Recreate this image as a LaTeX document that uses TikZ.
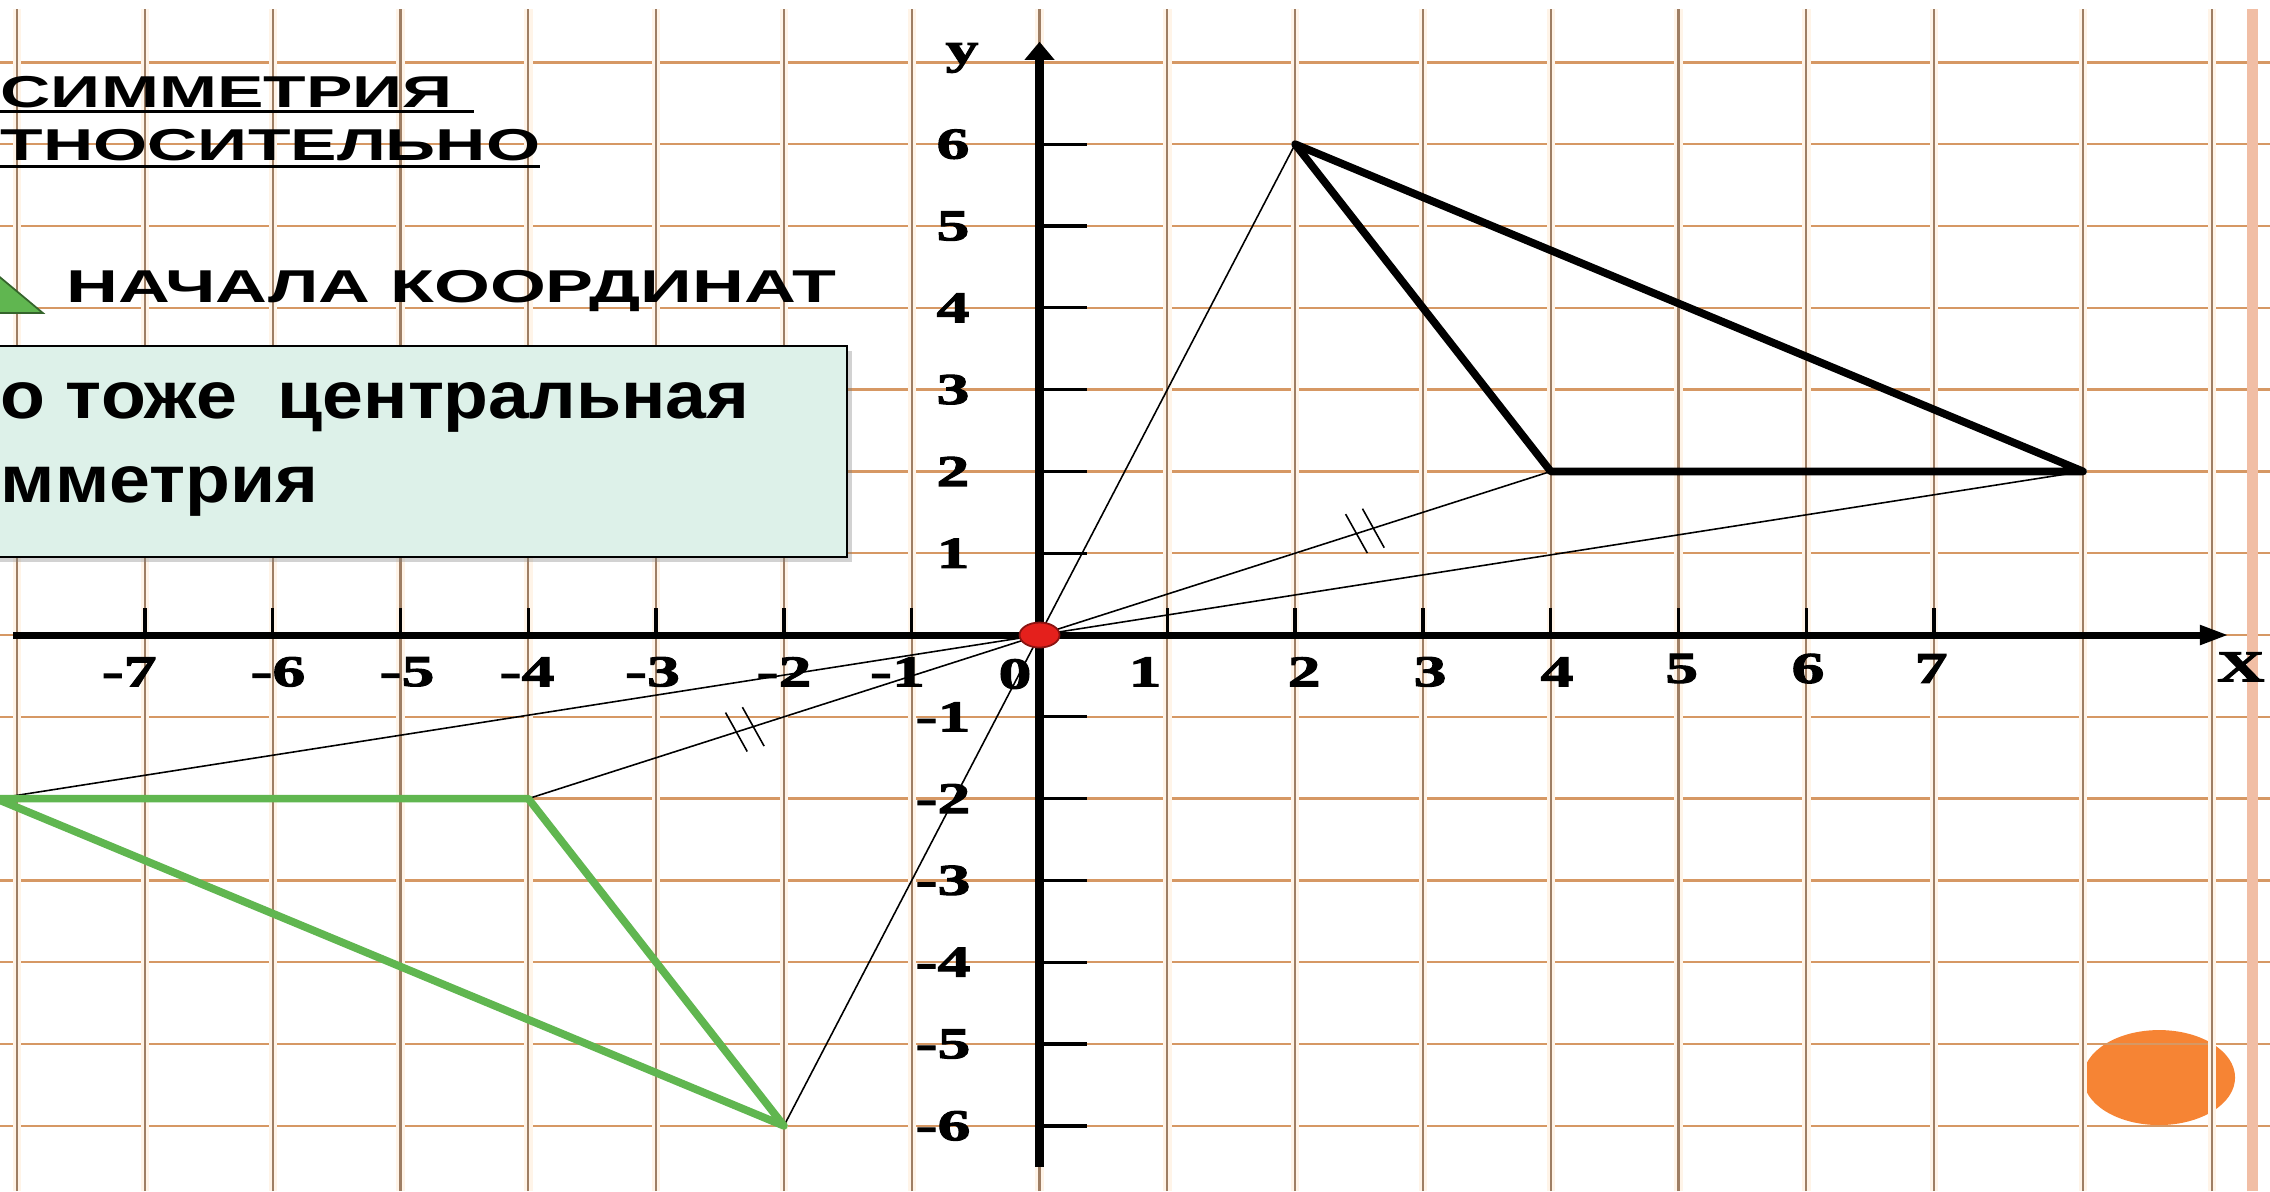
\documentclass[tikz,border=0pt]{standalone}
\usepackage{fontspec}
\usetikzlibrary{arrows.meta, calc, shadows}

\newfontfamily\axfont[FakeStretch=1.5, FakeBold=2.5]{Liberation Serif Bold}
\newfontfamily\capfont[FakeStretch=1.56]{Liberation Sans Bold}
\newfontfamily\boxfont[FakeStretch=1.1]{Liberation Sans Bold}

\definecolor{gridv}{RGB}{158,126,100}
\definecolor{gridh}{RGB}{214,152,100}
\definecolor{glow}{RGB}{255,244,232}
\definecolor{margin}{RGB}{241,190,165}
\definecolor{mint}{RGB}{221,241,233}
\definecolor{leaf}{RGB}{96,182,80}
\definecolor{dot}{RGB}{228,32,28}
\definecolor{sun}{RGB}{246,132,52}

\tikzset{
  num/.style={font=\axfont\fontsize{12.5}{14}\selectfont, inner sep=0pt},
  headtxt/.style={font=\capfont\fontsize{12.7}{15}\selectfont, anchor=base west, inner sep=0pt},
  boxtxt/.style={font=\boxfont\fontsize{19}{22}\selectfont, anchor=base west, inner sep=0pt},
  panel/.style={draw, fill=mint, line width=0.6pt,
    drop shadow={shadow xshift=0.05cm, shadow yshift=-0.05cm, opacity=0.35}},
  ray/.style={line width=0.45pt},
  fig/.style={line width=2.2pt, line join=round},
}

\begin{document}
\begin{tikzpicture}[x=1.278cm, y=0.818cm]
  \useasboundingbox (-8.134,-6.797) rectangle (9.628,7.763);
  \clip (-8.134,-6.797) rectangle (9.628,7.763);
  \fill[white] (-8.134,-6.797) rectangle (9.628,7.763);
  % orange spot, under the grid
  \fill[sun] (8.76,-5.41) ellipse [x radius=0.76cm, y radius=0.475cm];
  % grid paper
  \foreach \gy in {-6,...,7}
    \draw[gridh, line width=0.65pt] (-8.134,\gy) -- (9.628,\gy);
  \foreach \gx in {-8,...,7,8.165,9.175} {
    \draw[glow, line width=2.4pt] (\gx,-6.797) -- (\gx,7.653);
    \draw[gridv, line width=0.65pt] (\gx,-6.797) -- (\gx,7.653);
  }
  \draw[margin, line width=2.85pt] (9.491,-6.797) -- (9.491,7.653);
  % points
  \coordinate (O) at (0,0);
  \coordinate (A) at (2,6);
  \coordinate (B) at (4,2);
  \coordinate (C) at (8.165,2);
  \coordinate (A1) at (-2,-6);
  \coordinate (B1) at (-4,-2);
  \coordinate (C1) at (-8.165,-2);
  % lines through O
  \draw[ray] (A) -- (A1);
  \draw[ray] (B) -- (B1);
  \draw[ray] (C) -- (C1);
  % equal marks
  \foreach \t in {0.62,0.653}
    \draw[ray] ($(O)!\t!(B)+(-0.085,0.238)$) -- ++(0.17,-0.476);
  \foreach \t in {0.56,0.593}
    \draw[ray] ($(O)!\t!(B1)+(-0.085,0.238)$) -- ++(0.17,-0.476);
  % triangle and its image
  \draw[fig] (A) -- (B) -- (C) -- cycle;
  \draw[fig, leaf] (A1) -- (B1) -- (C1) -- cycle;
  % axes
  \draw[line width=2pt, -{Triangle[length=8.3pt, width=5.2pt]}] (-8.032,0) -- (9.307,0);
  \draw[line width=2.8pt, -{Triangle[length=5.2pt, width=8.3pt]}] (0,-6.5) -- (0,7.253);
  \foreach \k in {-7,...,-1,1,2,...,7}
    \draw[line width=0.95pt] (\k,0) -- (\k,0.33);
  \foreach \k in {-6,...,-1,1,2,...,6}
    \draw[line width=0.95pt] (0,\k) -- (0.372,\k);
  % numbers
  \foreach \v/\p in {-7/-7.123, -6/-5.959, -5/-4.949, -4/-4.010, -3/-3.028,
                     -2/-1.999, -1/-1.111, 1/0.826, 2/2.070, 3/3.056, 4/4.049}
    \node[num] (x\v) at (\p,-0.45) {\v};
  \foreach \v/\p in {5/5.025, 6/6.013, 7/6.976}
    \node[num] (x\v) at (\p,-0.41) {\v};
  \node[num] (x0) at (-0.192,-0.477) {0};
  \foreach \v in {1,...,6}
    \node[num] (y\v) at (-0.677,\v) {\v};
  \foreach \v in {-6,...,-1}
    \node[num] (y\v) at (-0.755,\v) {\v};
  \node[num] (xname) at (9.40,-0.39) {X};
  \node[num] (yname) at (-0.606,7.054) {y};
  % centre
  \draw[dot!60!black, fill=dot, line width=0.5pt] (O) ellipse [x radius=0.2cm, y radius=0.125cm];
  % heading
  \node[headtxt] (t1) at (-8.134,6.455) {СИММЕТРИЯ};
  \draw[line width=0.85pt] ($(t1.base west)+(0,-0.061)$) -- ++(3.709,0);
  \node[headtxt] (t2) at (-8.134,5.795) {ТНОСИТЕЛЬНО};
  \draw[line width=0.85pt] ($(t2.base west)+(0,-0.073)$) -- ++(4.225,0);
  \fill[leaf, draw=leaf!55!black, line width=0.5pt] (-8.2,4.46) -- (-7.798,3.936) -- (-8.2,3.936) -- cycle;
  \node[headtxt, font=\capfont\fontsize{13.1}{15}\selectfont] (t3) at (-7.617,4.059) {НАЧАЛА КООРДИНАТ};
  % note
  \node[panel, anchor=north west, minimum width=8.7cm, minimum height=2.11cm] (box) at (-8.32,3.545) {};
  \node[boxtxt] (l1) at (-8.134,2.653) {о тоже~ центральная};
  \node[boxtxt] (l2) at (-8.134,1.626) {мметрия};
\end{tikzpicture}
\end{document}
